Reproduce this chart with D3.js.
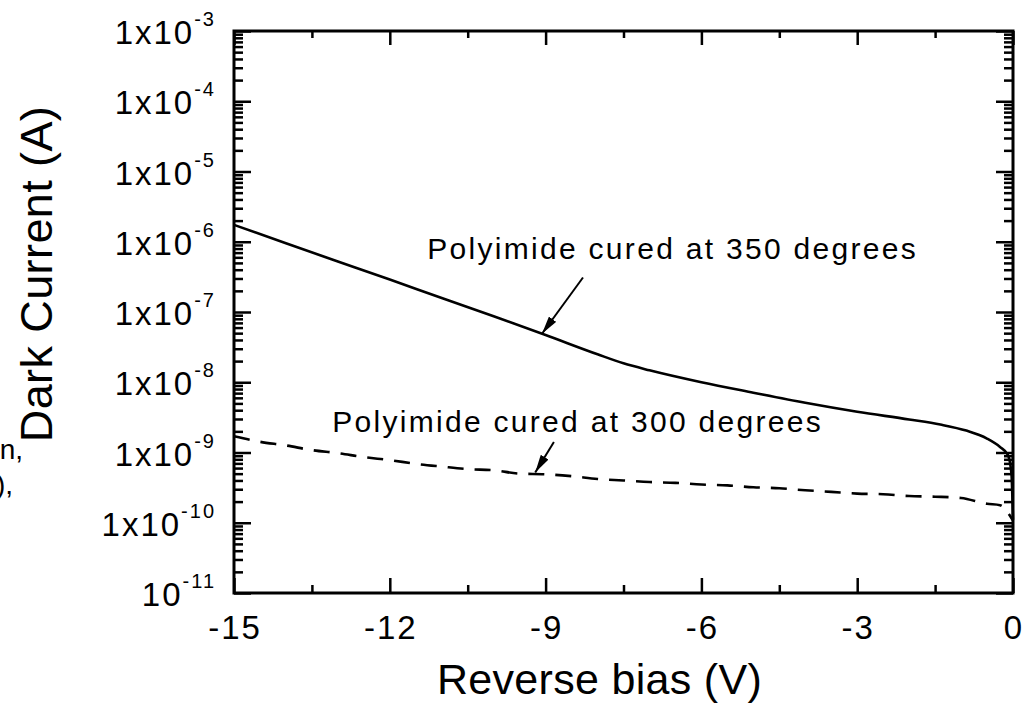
<!DOCTYPE html>
<html>
<head>
<meta charset="utf-8">
<script src="https://cdn.jsdelivr.net/npm/d3@7"></script>
<style>
  body { margin: 0; background: #fff; }
  svg { display: block; font-family: "Liberation Sans", Arial, sans-serif; }
</style>
</head>
<body>
<svg id="chart" width="1027" height="715"></svg>
<script>
// data: reverse bias (V) vs dark current (A)
var volts350 = [-15, -14, -13, -12, -11, -10, -9, -8, -7.5, -7, -6, -5, -4, -3, -2, -1.4, -0.9, -0.5, -0.25, -0.1, -0.03, 0];
var current350 = [1.74e-6, 9.5e-7, 5.25e-7, 2.9e-7, 1.58e-7, 8.7e-8, 4.7e-8, 2.5e-8, 1.86e-8, 1.48e-8, 1.0e-8,
                  7.1e-9, 5.1e-9, 3.8e-9, 2.95e-9, 2.5e-9, 2.05e-9, 1.58e-9, 1.2e-9, 9.3e-10, 5.0e-10, 1.1e-10];

var volts300 = [-15, -14.5, -14, -13.5, -13, -12.5, -12, -11.5, -11, -10.5, -10, -9.5, -9, -8.5, -8, -7.5, -7,
                -6.5, -6, -5.5, -5, -4.5, -4, -3.5, -3, -2.5, -2, -1.5, -1, -0.5, -0.25, -0.1, 0];
var current300 = [1.7e-9, 1.42e-9, 1.26e-9, 1.08e-9, 9.8e-10, 8.6e-10, 7.8e-10, 6.9e-10, 6.3e-10, 5.8e-10, 5.6e-10,
                  5.0e-10, 4.9e-10, 4.6e-10, 4.2e-10, 4.0e-10, 3.8e-10, 3.7e-10, 3.5e-10, 3.4e-10, 3.2e-10,
                  3.1e-10, 2.9e-10, 2.75e-10, 2.6e-10, 2.55e-10, 2.4e-10, 2.35e-10, 2.25e-10, 1.86e-10,
                  1.78e-10, 1.4e-10, 1.07e-10];

var xMajor = [-15, -12, -9, -6, -3, 0];
var xMinor = [-13.5, -10.5, -7.5, -4.5, -1.5];
var yExponents = [-3, -4, -5, -6, -7, -8, -9, -10, -11];

// annotations, in data units
var notes = [
  {text: "Polyimide cured at 350 degrees", x: -11.28, y: 5.6e-7, from: [-8.28, 3.1e-7], to: [-9.07, 4.9e-8]},
  {text: "Polyimide cured at 300 degrees", x: -13.11, y: 1.94e-9, from: [-8.84, 1.41e-9], to: [-9.20, 5.2e-10]}
];

var svg = d3.select("#chart");
var pLeft = 234, pRight = 1013, pTop = 31, pBottom = 593;

var x = d3.scaleLinear().domain([-15, 0]).range([pLeft, pRight]);
var y = d3.scaleLog().domain([1e-11, 1e-3]).range([pBottom, pTop]);

var yMajor = yExponents.map(function(e) { return Math.pow(10, e); });
var yMinor = [];
yExponents.forEach(function(e) {
  if (e == -3) return;
  for (var k = 2; k <= 9; k++) yMinor.push(k * Math.pow(10, e));
});

function drawAxis(axis, tx, ty) {
  var g = svg.append("g").attr("transform", "translate(" + tx + "," + ty + ")").call(axis);
  g.select(".domain").remove();
  g.selectAll(".tick line").attr("stroke", "#000").attr("stroke-width", 2.5);
  g.selectAll(".tick text").remove();
  return g;
}

// ticks all point inward
drawAxis(d3.axisBottom(x).tickValues(xMajor).tickSize(-15), 0, pBottom);
drawAxis(d3.axisBottom(x).tickValues(xMinor).tickSize(-8), 0, pBottom);
drawAxis(d3.axisTop(x).tickValues(xMajor).tickSize(-14), 0, pTop);
drawAxis(d3.axisTop(x).tickValues(xMinor).tickSize(-7), 0, pTop);
drawAxis(d3.axisLeft(y).tickValues(yMajor).tickSize(-17), pLeft, 0);
drawAxis(d3.axisLeft(y).tickValues(yMinor).tickSize(-9), pLeft, 0);
drawAxis(d3.axisRight(y).tickValues(yMajor).tickSize(-17), pRight, 0);
drawAxis(d3.axisRight(y).tickValues(yMinor).tickSize(-9), pRight, 0);

// frame
svg.append("rect")
  .attr("x", pLeft).attr("y", pTop)
  .attr("width", pRight - pLeft).attr("height", pBottom - pTop)
  .attr("fill", "none").attr("stroke", "#000").attr("stroke-width", 3);

// x tick labels
svg.append("g").selectAll("text").data(xMajor).enter().append("text")
  .attr("x", function(d) { return x(d) + 1; })
  .attr("y", 639)
  .attr("text-anchor", "middle")
  .attr("font-size", 33)
  .attr("letter-spacing", 2)
  .text(function(d) { return d; });

// y tick labels with superscript exponent
var yl = svg.append("g").selectAll("text").data(yExponents).enter().append("text")
  .attr("x", 216)
  .attr("y", function(e) { return y(Math.pow(10, e)) + 13; })
  .attr("text-anchor", "end")
  .attr("font-size", 33)
  .attr("letter-spacing", 2);
yl.append("tspan").text(function(e) { return e == -11 ? "10" : "1x10"; });
yl.append("tspan").attr("dy", -18).attr("font-size", 20).text(function(e) { return e; });

// curves
var line = d3.line()
  .curve(d3.curveMonotoneX)
  .x(function(d) { return x(d[0]); })
  .y(function(d) { return y(d[1]); });

svg.append("path")
  .datum(d3.zip(volts350, current350))
  .attr("d", line)
  .attr("fill", "none").attr("stroke", "#000").attr("stroke-width", 2.6);

svg.append("path")
  .datum(d3.zip(volts300, current300))
  .attr("d", line)
  .attr("fill", "none").attr("stroke", "#000").attr("stroke-width", 2.6)
  .attr("stroke-dasharray", "16,11");

// annotations with arrows
svg.append("defs").append("marker")
  .attr("id", "head")
  .attr("viewBox", "0 0 18 9")
  .attr("refX", 18).attr("refY", 4.5)
  .attr("markerWidth", 18).attr("markerHeight", 9)
  .attr("markerUnits", "userSpaceOnUse")
  .attr("orient", "auto")
  .append("path").attr("d", "M0,0L18,4.5L0,9Z").attr("fill", "#000");

notes.forEach(function(n) {
  svg.append("text")
    .attr("x", x(n.x)).attr("y", y(n.y))
    .attr("font-size", 30)
    .attr("letter-spacing", 2.3)
    .text(n.text);
  svg.append("line")
    .attr("x1", x(n.from[0])).attr("y1", y(n.from[1]))
    .attr("x2", x(n.to[0])).attr("y2", y(n.to[1]))
    .attr("stroke", "#000").attr("stroke-width", 2)
    .attr("marker-end", "url(#head)");
});

// axis titles
svg.append("text")
  .attr("transform", "translate(52,274) rotate(-90)")
  .attr("text-anchor", "middle")
  .attr("font-size", 45)
  .attr("letter-spacing", 0.4)
  .text("Dark Current (A)");

svg.append("text")
  .attr("x", 437).attr("y", 694)
  .attr("font-size", 43)
  .attr("letter-spacing", 0.3)
  .text("Reverse bias (V)");

// clipped text from the neighbouring caption at the left edge
svg.append("text").attr("x", 23).attr("y", 459).attr("text-anchor", "end").attr("font-size", 28).text("n,");
svg.append("text").attr("x", 13).attr("y", 494).attr("text-anchor", "end").attr("font-size", 28).text("),");
</script>
</body>
</html>
